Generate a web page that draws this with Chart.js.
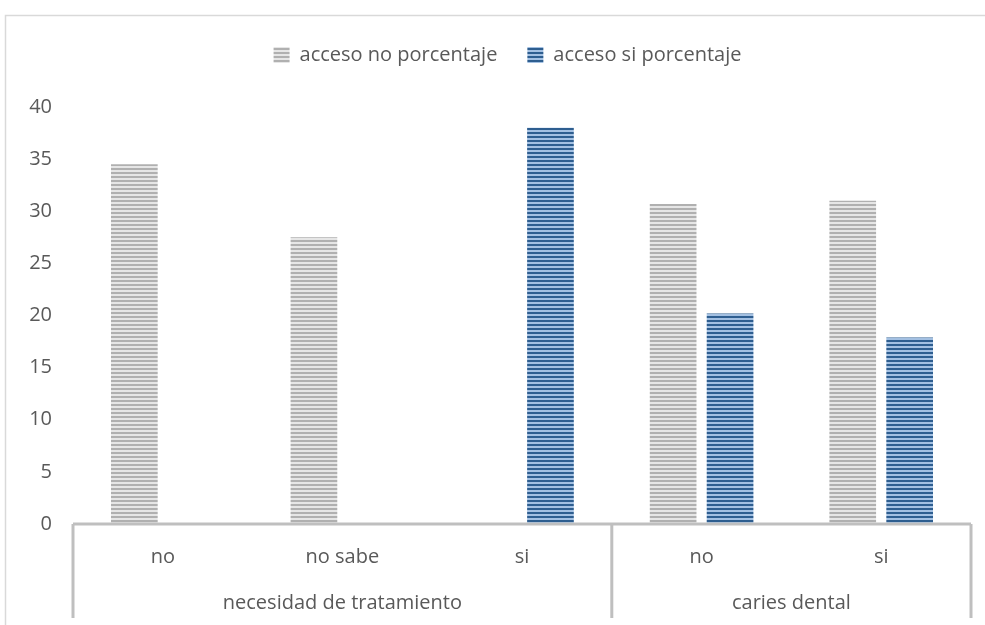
<!DOCTYPE html>
<html>
<head>
<meta charset="utf-8">
<script src="https://cdn.jsdelivr.net/npm/chart.js@4.4.1/dist/chart.umd.min.js"></script>
<style>
  body { margin: 0; background: #fff; }
  #wrap { width: 985px; height: 625px; position: relative; }
</style>
</head>
<body>
<div id="wrap"><canvas id="statChart"></canvas></div>
<script>
// categories, grouped two levels deep
const subLabels = ["no", "no sabe", "si", "no", "si"];
const groups = [
  { name: "necesidad de tratamiento", from: 0, to: 2 },
  { name: "caries dental", from: 3, to: 4 }
];
const accesoNo = [34.5, 27.5, 0, 30.7, 31];
const accesoSi = [0, 0, 38, 20.2, 17.9];
const yTicks = [0, 5, 10, 15, 20, 25, 30, 35, 40];

const textColor = "#595959";
const axisColor = "#bfbfbf";
const fontFamily = "'Open Sans', sans-serif";
const fontSize = 20;

// horizontal stripe fill used by the bars and legend boxes
function stripes(dark, light) {
  const c = document.createElement("canvas");
  c.width = 4;
  c.height = 4;
  const g = c.getContext("2d");
  g.fillStyle = light;
  g.fillRect(0, 0, 4, 4);
  g.fillStyle = dark;
  g.fillRect(0, 0, 4, 2);
  return g.createPattern(c, "repeat");
}

const grayFill = stripes("#b0b0b0", "#e6e6e6");
const blueFill = stripes("#2e5e90", "#a3c0e2");

// outer frame + multi level category axis
const framePlugin = {
  id: "frame",
  afterInit(chart) {
    // extra room between legend and plot
    const fit = chart.legend.fit;
    chart.legend.fit = function () {
      fit.call(this);
      this.height += 32;
    };
  },
  afterLayout(chart) {
    // legend is centred a bit right of the canvas centre
    chart.legend.left += 44;
  },
  beforeDraw(chart) {
    const ctx = chart.ctx;
    ctx.save();
    ctx.strokeStyle = "#d9d9d9";
    ctx.lineWidth = 1.5;
    ctx.beginPath();
    ctx.moveTo(5.5, chart.height);
    ctx.lineTo(5.5, 15.5);
    ctx.lineTo(chart.width, 15.5);
    ctx.stroke();
    ctx.restore();
  },
  afterDraw(chart) {
    const ctx = chart.ctx;
    const x = chart.scales.x;
    const top = x.top;
    const bottom = 618;
    const half = (x.getPixelForValue(1) - x.getPixelForValue(0)) / 2;
    ctx.save();
    ctx.strokeStyle = axisColor;
    ctx.lineWidth = 3;
    ctx.beginPath();
    ctx.moveTo(x.left, top);
    ctx.lineTo(x.right, top);
    const edges = [x.left, x.right];
    groups.forEach((g, i) => {
      if (i > 0) edges.push(x.getPixelForValue(g.from) - half);
    });
    edges.forEach((px) => {
      ctx.moveTo(px, top);
      ctx.lineTo(px, bottom);
    });
    ctx.stroke();

    ctx.fillStyle = textColor;
    ctx.font = fontSize + "px " + fontFamily;
    ctx.textAlign = "center";
    ctx.textBaseline = "middle";
    groups.forEach((g) => {
      const l = x.getPixelForValue(g.from) - half;
      const r = x.getPixelForValue(g.to) + half;
      ctx.fillText(g.name, (l + r) / 2, 603);
    });
    ctx.restore();
  }
};

const ctx = document.querySelector("#statChart").getContext("2d");
const chart = new Chart(ctx, {
  type: "bar",
  data: {
    labels: subLabels,
    datasets: [
      {
        label: "acceso no porcentaje",
        data: accesoNo,
        backgroundColor: grayFill,
        borderWidth: 0
      },
      {
        label: "acceso si porcentaje",
        data: accesoSi,
        backgroundColor: blueFill,
        borderWidth: 0
      }
    ]
  },
  options: {
    responsive: true,
    maintainAspectRatio: false,
    animation: false,
    categoryPercentage: 0.634,
    barPercentage: 0.82,
    layout: {
      padding: { left: 0, right: 14, top: 15, bottom: 0 }
    },
    plugins: {
      legend: {
        position: "top",
        labels: {
          boxWidth: 16,
          boxHeight: 16,
          padding: 30,
          color: textColor,
          font: { family: fontFamily, size: fontSize }
        }
      },
      tooltip: { enabled: false }
    },
    scales: {
      x: {
        grid: { display: false, drawTicks: false },
        border: { display: false },
        ticks: {
          color: textColor,
          padding: 21,
          maxRotation: 0,
          font: { family: fontFamily, size: fontSize }
        },
        afterFit(scale) {
          scale.height = 101;
        }
      },
      y: {
        min: 0,
        max: 40,
        grid: { display: false, drawTicks: false },
        border: { display: false },
        afterBuildTicks(scale) {
          scale.ticks = yTicks.map((v) => ({ value: v }));
        },
        ticks: {
          color: textColor,
          padding: 21,
          font: { family: fontFamily, size: fontSize }
        },
        afterFit(scale) {
          scale.width = 73;
        }
      }
    }
  },
  plugins: [framePlugin]
});
</script>
</body>
</html>
